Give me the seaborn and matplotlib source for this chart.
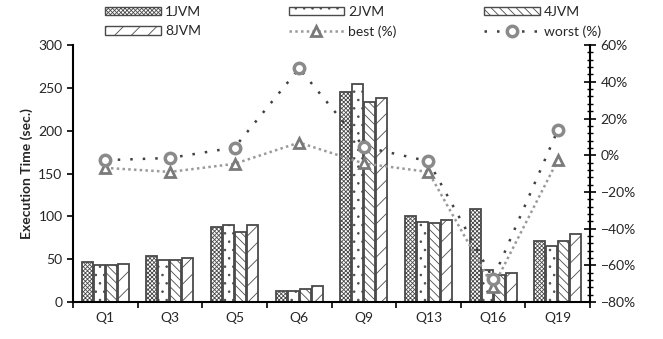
import numpy as np
import pandas as pd
import matplotlib
matplotlib.use("Agg")
import matplotlib.pyplot as plt
from matplotlib.ticker import FixedLocator, PercentFormatter, MultipleLocator
from matplotlib.patches import Patch
import seaborn as sns

categories = ["Q1", "Q3", "Q5", "Q6", "Q9", "Q13", "Q16", "Q19"]
jvm1 = [47, 54, 88, 13, 245, 101, 109, 71]
jvm2 = [43, 49, 90, 13, 255, 94, 37, 66]
jvm4 = [43, 49, 82, 15, 234, 92, 31, 71]
jvm8 = [45, 51, 90, 19, 238, 96, 34, 79]
best_pct = [-6.9, -9.1, -4.7, 6.9, -4.5, -9.1, -71.8, -2.7]
worst_pct = [-2.7, -1.5, 4.2, 47.3, 4.6, -3.3, -67.3, 13.6]
series_names = ["1JVM", "2JVM", "4JVM", "8JVM"]

sns.set_style("ticks")
plt.rcParams["font.family"] = ["Lato", "DejaVu Sans"]
plt.rcParams["hatch.linewidth"] = 0.6
plt.rcParams["hatch.color"] = "#555555"

rows = []
for name, vals in zip(series_names, [jvm1, jvm2, jvm4, jvm8]):
    for c, v in zip(categories, vals):
        rows.append({"query": c, "series": name, "time": v})
df = pd.DataFrame(rows)

fig = plt.figure(figsize=(6.63, 3.39), dpi=100)
ax = fig.add_axes([0.110, 0.109, 0.780, 0.758])

edge = "#4a4a4a"
hatch_cols = ["#666666", "#666666", "#555555", "#999999"]
sns.barplot(data=df, x="query", y="time", hue="series", order=categories,
            hue_order=series_names, palette=["white"] * 4, width=0.74, gap=0.08,
            edgecolor=edge, linewidth=1.3, ax=ax, legend=False)
hatches = ["xxxxxxxx", "..", "\\\\\\\\", "//"]


def style_patch(p, h, hc):
    p.set_hatch(h)
    p.set_edgecolor(edge)
    try:
        p.set_hatchcolor(hc)
    except Exception:
        pass


for cont, h, hc in zip(ax.containers, hatches, hatch_cols):
    for p in cont:
        style_patch(p, h, hc)

ax.set_ylim(0, 300)
ax.set_xlim(-0.5, len(categories) - 0.5)
ax.yaxis.set_major_locator(MultipleLocator(50))
ax.set_ylabel("Execution Time (sec.)", fontsize=10, fontweight="bold")
ax.set_xlabel("")
ax.tick_params(axis="x", which="major", length=0, labelsize=10, pad=7)
ax.xaxis.set_minor_locator(FixedLocator(np.arange(-0.5, len(categories), 1.0)))
ax.tick_params(axis="x", which="minor", length=4, width=1.2, direction="out", color="black")
ax.tick_params(axis="y", labelsize=10, length=4, width=1.2, direction="out", color="black")
for s in ["left", "bottom"]:
    ax.spines[s].set_linewidth(1.5)
    ax.spines[s].set_color("black")
ax.spines["top"].set_visible(False)
ax.spines["right"].set_visible(False)

ax2 = ax.twinx()
xpos = np.arange(len(categories))
ld = pd.DataFrame({"x": xpos, "best": best_pct, "worst": worst_pct})
sns.lineplot(data=ld, x="x", y="best", ax=ax2, color="#9a9a9a", linestyle=(0, (1, 1.3)),
             linewidth=1.8, marker="^", markersize=6.5, markerfacecolor="white",
             markeredgecolor="#7a7a7a", markeredgewidth=2, label="best (%)", legend=False)
sns.lineplot(data=ld, x="x", y="worst", ax=ax2, color="#404040", linestyle=(0, (1, 4)),
             linewidth=1.8, marker="o", markersize=7.5, markerfacecolor="white",
             markeredgecolor="#8a8a8a", markeredgewidth=2.5, label="worst (%)", legend=False)
ax2.set_ylim(-80, 60)
ax2.set_xlim(-0.5, len(categories) - 0.5)
ax2.yaxis.set_major_locator(MultipleLocator(20))
ax2.yaxis.set_minor_locator(MultipleLocator(4))
ax2.yaxis.set_major_formatter(PercentFormatter(decimals=0))
ax2.set_ylabel("")
ax2.tick_params(axis="y", which="major", labelsize=10, length=8, width=1.2, direction="inout", color="black")
ax2.tick_params(axis="y", which="minor", length=5, width=1.0, direction="inout", color="black")
ax2.spines["right"].set_linewidth(1.5)
ax2.spines["right"].set_color("black")
for s in ["top", "left", "bottom"]:
    ax2.spines[s].set_visible(False)

bar_handles = []
for h, hc, n in zip(hatches, hatch_cols, series_names):
    ph = Patch(facecolor="white", edgecolor=edge, linewidth=1.0, label=n)
    style_patch(ph, h, hc)
    bar_handles.append(ph)
lh = ax2.get_lines()
best_h, worst_h = lh[0], lh[1]
handles = [bar_handles[0], bar_handles[3], bar_handles[1], best_h, bar_handles[2], worst_h]
labels = ["1JVM", "8JVM", "2JVM", "best (%)", "4JVM", "worst (%)"]
fig.legend(handles, labels, ncol=3, loc="upper left", bbox_to_anchor=(0.14, 1.02),
           frameon=False, fontsize=10, handlelength=4.0, handleheight=0.55,
           columnspacing=6.3, labelspacing=0.55, handletextpad=0.3)

fig.savefig("out.png", dpi=100)
